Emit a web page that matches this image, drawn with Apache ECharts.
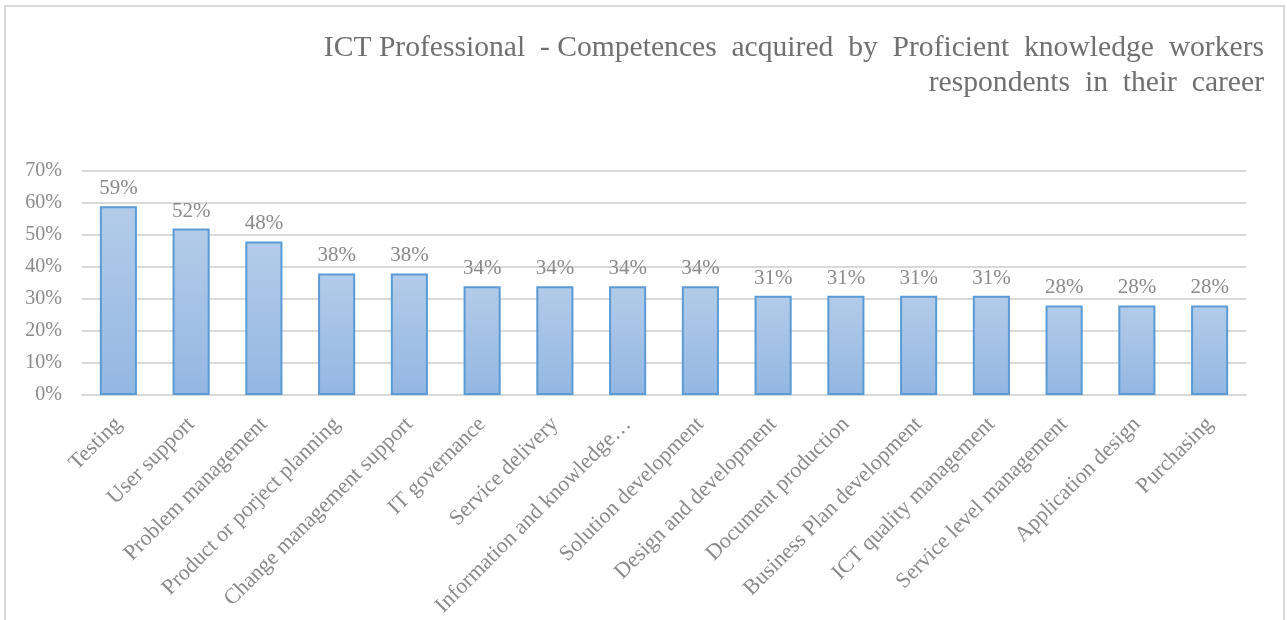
<!DOCTYPE html>
<html>
<head>
<meta charset="utf-8">
<script src="https://cdn.jsdelivr.net/npm/echarts@6/dist/echarts.min.js"></script>
<style>
  html, body { margin: 0; padding: 0; background: #ffffff; }
  #chart { width: 1287px; height: 620px; }
</style>
</head>
<body>
<div id="chart"></div>
<script>
// Competence categories (x axis)
const categories = [
  'Testing',
  'User support',
  'Problem management',
  'Product or porject planning',
  'Change management support',
  'IT governance',
  'Service delivery',
  'Information and knowledge…',
  'Solution development',
  'Design and development',
  'Document production',
  'Business Plan development',
  'ICT quality management',
  'Service level management',
  'Application design',
  'Purchasing'
];

// Share of respondents (%)
const shares = [59, 52, 48, 38, 38, 34, 34, 34, 34, 31, 31, 31, 31, 28, 28, 28];

// Y axis ticks
const yTicks = [0, 10, 20, 30, 40, 50, 60, 70];

const titleLines = [
  'ICT Professional  - Competences  acquired  by  Proficient  knowledge  workers',
  'respondents  in  their  career'
];

const serif = '"Liberation Serif", "DejaVu Serif", serif';
const textGray = '#8a8a8a';
const titleStyle = {
  fontFamily: serif,
  fontSize: 29.6,
  fill: '#707070',
  align: 'right',
  verticalAlign: 'middle'
};

const chart = echarts.init(document.getElementById('chart'));
chart.setOption({
  backgroundColor: '#ffffff',
  animation: false,
  graphic: [
    {
      type: 'rect',
      shape: { x: 5, y: 6, width: 1279, height: 640 },
      style: { fill: 'none', stroke: '#d9d9d9', lineWidth: 2 },
      silent: true,
      z: -1
    },
    {
      type: 'text',
      x: 1264,
      y: 48,
      style: Object.assign({ text: titleLines[0] }, titleStyle)
    },
    {
      type: 'text',
      x: 1264,
      y: 83,
      style: Object.assign({ text: titleLines[1] }, titleStyle)
    }
  ],
  grid: { left: 82, right: 41, top: 171, bottom: 225, containLabel: false },
  xAxis: {
    type: 'category',
    data: categories,
    axisTick: { show: false },
    axisLine: { lineStyle: { color: '#d9d9d9', width: 2 } },
    axisLabel: {
      interval: 0,
      rotate: 45,
      margin: 26,
      fontFamily: serif,
      fontSize: 22,
      color: textGray
    }
  },
  yAxis: {
    type: 'value',
    min: yTicks[0],
    max: yTicks[yTicks.length - 1],
    interval: 10,
    axisLine: { show: false },
    axisTick: { show: false },
    splitLine: { lineStyle: { color: '#d9d9d9', width: 2 } },
    axisLabel: {
      margin: 20,
      fontFamily: serif,
      fontSize: 20,
      color: textGray,
      formatter: v => v + '%'
    }
  },
  series: [{
    type: 'bar',
    data: shares,
    barCategoryGap: '49%',
    itemStyle: {
      color: new echarts.graphic.LinearGradient(0, 0, 0, 1, [
        { offset: 0, color: '#b3cbe9' },
        { offset: 1, color: '#93b7e2' }
      ]),
      borderColor: '#5b9bd5',
      borderWidth: 2
    },
    label: {
      show: true,
      position: 'top',
      distance: 7,
      fontFamily: serif,
      fontSize: 21,
      color: textGray,
      formatter: p => p.value + '%'
    }
  }]
});
</script>
</body>
</html>
